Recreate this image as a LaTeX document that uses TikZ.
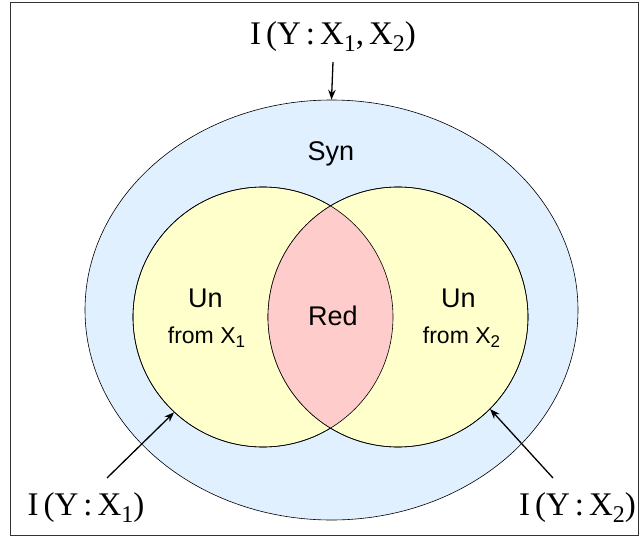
\documentclass[tikz,border=0pt]{standalone}
\usepackage{fontspec}
\setmainfont{Liberation Serif}
\newfontfamily\helv{Liberation Sans}
\usetikzlibrary{arrows.meta,shapes.geometric}
\definecolor{synblue}{RGB}{224,240,255}
\definecolor{unyellow}{RGB}{255,255,204}
\definecolor{redpink}{RGB}{255,204,204}
\newcommand{\lsub}[1]{\raisebox{-7pt}{\fontsize{24}{24}\selectfont #1}}
\newcommand{\ssub}[1]{\raisebox{-4pt}{\fontsize{17}{17}\selectfont #1}}
\newcommand{\gp}{\hspace{5pt}}
\tikzset{
  region/.style={draw=black, line width=0.6pt, inner sep=0pt},
  lbl/.style={font=\fontsize{33}{35}\selectfont, inner sep=0pt, anchor=base},
  inlbl/.style={font=\helv\fontsize{27}{29}\selectfont, inner sep=0pt, anchor=base},
  smlbl/.style={font=\helv\fontsize{23}{25}\selectfont, inner sep=0pt, anchor=base},
  arr/.style={-{Stealth[length=10pt,width=7.5pt]}, line width=1.3pt}
}
\begin{document}
\begin{tikzpicture}[x=1pt,y=-1pt]
\useasboundingbox (0,0) rectangle (641,538);
\draw[line width=1pt, draw=black!80] (10,2) rectangle (638,535);
% regions
\node[region, ellipse, fill=synblue, minimum width=493pt, minimum height=420pt] (O) at (331.5,310) {};
\node[region, circle, fill=unyellow, minimum size=260pt] (L) at (263,317) {};
\node[region, circle, fill=unyellow, minimum size=260pt] (R) at (398,317) {};
\begin{scope}
  \clip (263,317) circle (130);
  \fill[redpink] (398,317) circle (130);
\end{scope}
\draw[line width=0.6pt] (263,317) circle (130);
\draw[line width=0.6pt] (398,317) circle (130);
% inner labels
\node[inlbl] (syn) at (331,160) {Syn};
\node[inlbl] (un1) at (205.5,307) {Un};
\node[smlbl] (fr1) at (206.5,343) {from X\ssub{1}};
\node[inlbl] (red) at (333,325) {Red};
\node[inlbl] (un2) at (458.5,307) {Un};
\node[smlbl] (fr2) at (461.5,343) {from X\ssub{2}};
% outer labels
\node[lbl] (tl) at (333,45) {I\gp(Y\gp:\gp X\lsub{1},\gp X\lsub{2})};
\node[lbl] (bl) at (86,515) {I\gp(Y\gp:\gp X\lsub{1})};
\node[lbl] (br) at (577.5,515) {I\gp(Y\gp:\gp X\lsub{2})};
% arrows
\coordinate (a0) at (333,62);
\coordinate (a1) at (107,478);
\coordinate (a2) at (553,478);
\draw[arr] (a0) -- (O.north);
\draw[arr] (a1) -- (L.227);
\draw[arr] (a2) -- (R.-45);
\end{tikzpicture}
\end{document}
